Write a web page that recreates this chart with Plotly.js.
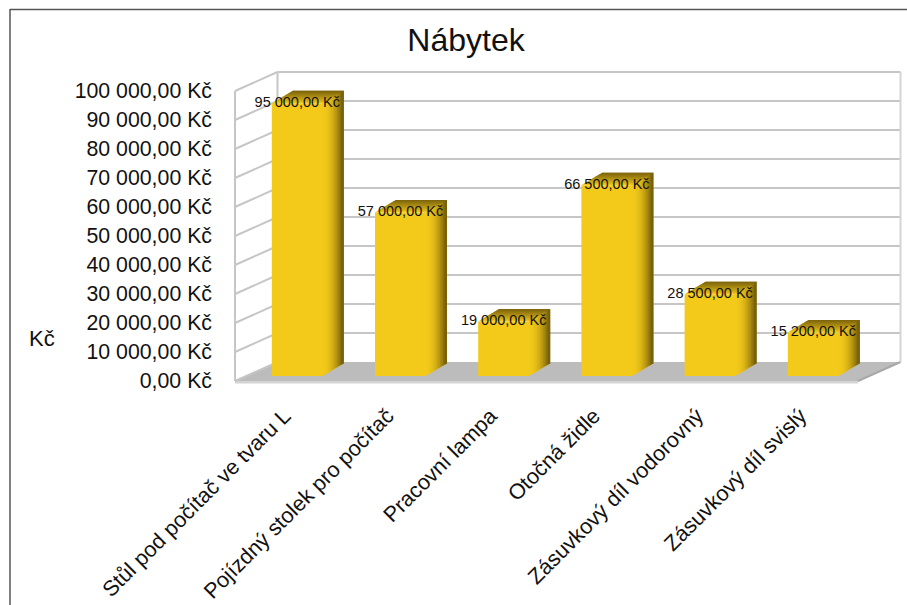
<!DOCTYPE html>
<html><head><meta charset="utf-8">
<script src="https://cdn.plot.ly/plotly-3.0.1.min.js"></script>
<style>html,body{margin:0;padding:0;background:#fff;overflow:hidden}#c{width:907px;height:605px}</style>
</head><body><div id="c"></div>
<script>
const categories = ["Stůl pod počítač ve tvaru L","Pojízdný stolek pro počítač","Pracovní lampa","Otočná židle","Zásuvkový díl vodorovný","Zásuvkový díl svislý"];
const values = [95000,57000,19000,66500,28500,15200];
const tickValues = [0,10000,20000,30000,40000,50000,60000,70000,80000,90000,100000];
const chartTitle = "Nábytek";
const axisTitle = "Kč";

const W=907,H=605;
const pitch=103.2, firstCenter=297.3;
const wallScale=290/100000, barScale=287/100000;
const wallZeroY=381, barZeroY=376;
const barWidth=51/pitch;
const fmt=v=>{const s=String(Math.round(v));return s.replace(/\B(?=(\d{3})+$)/g,' ')+',00 Kč';};
const xRange=[(0-firstCenter)/pitch,(W-firstCenter)/pitch];
const yRange=(z,k)=>[-(H-z)/k, z/k];

const X=(c,dx=0)=>c+dx/pitch;
const Yw=(v,dy=0)=>v-dy/wallScale;
const Yb=(v,dy=0)=>v-dy/barScale;
const mix=(a,b,t)=>'rgb('+a.map((q,i)=>Math.round(q+(b[i]-q)*t)).join(',')+')';
const path=pts=>'M'+pts.map(p=>p[0]+','+p[1]).join('L')+'Z';
const shapes=[];
const poly=(pts,color,yref)=>shapes.push({type:'path',xref:'x',yref,layer:'below',path:path(pts),fillcolor:color,line:{width:0}});
const seg=(a,b,color,w,yref)=>shapes.push({type:'line',xref:'x',yref,layer:'below',x0:a[0],y0:a[1],x1:b[0],y1:b[1],line:{color,width:w}});

const leftC=(235-firstCenter)/pitch, depthX=42.5, depthY=-19, rightC=(858-firstCenter)/pitch;
poly([[X(leftC),Yw(0)],[X(leftC,depthX),Yw(0,depthY)],[X(rightC,depthX),Yw(0,depthY)],[X(rightC),Yw(0)]],'#bcbcbc','y');
poly([[X(leftC),Yw(0)],[X(rightC),Yw(0)],[X(rightC),Yw(0,2.5)],[X(leftC),Yw(0,2.5)]],'#d4d4d4','y');
seg([X(rightC),Yw(0)],[X(rightC,depthX),Yw(0,depthY)],'#a8a8a8',2,'y');
tickValues.forEach(v=>{
  const g='#c6c6c6';
  seg([X(leftC),Yw(v)],[X(leftC,depthX),Yw(v,depthY)],g,2,'y');
  if(v>0) seg([X(leftC,depthX),Yw(v,depthY)],[X(rightC,depthX),Yw(v,depthY)],g,2,'y');
});
seg([X(leftC),Yw(0)],[X(leftC),Yw(100000)],'#c6c6c6',2,'y');
seg([X(leftC,depthX),Yw(0,depthY)],[X(leftC,depthX),Yw(100000,depthY)],'#c6c6c6',2,'y');
seg([X(rightC,depthX),Yw(0,depthY)],[X(rightC,depthX),Yw(100000,depthY)],'#d4d4d4',2,'y');

const front=[243,201,26], dark=[100,80,8];
const dX=21, dY=-12.5, strips=14;
values.forEach((v,i)=>{
  const l=i-barWidth/2, r=i+barWidth/2;
  for(let s=0;s<strips;s++){
    const a=s/strips, b=Math.min(1,(s+1)/strips+0.08), a0=a-0.05;
    poly([[X(r,dX*a0),Yb(0,dY*a)],[X(r,dX*b),Yb(0,dY*b)],[X(r,dX*b),Yb(v,dY*b)],[X(r,dX*a0),Yb(v,dY*a)]],mix(front,dark,Math.pow(a,2)),'y2');
    poly([[X(l,dX*a),Yb(v,dY*a)],[X(r,dX*a),Yb(v,dY*a)],[X(r,dX*b),Yb(v,dY*b)],[X(l,dX*b),Yb(v,dY*b)]],mix(front,[120,96,12],Math.pow(a,0.8)),'y2');
  }
});

shapes.push({type:'line',xref:'paper',yref:'paper',x0:10/W,x1:10/W,y0:0,y1:1-9/H,line:{color:'#555',width:1.5},layer:'above'});
shapes.push({type:'line',xref:'paper',yref:'paper',x0:10/W,x1:1,y0:1-9.5/H,y1:1-9.5/H,line:{color:'#555',width:1.5},layer:'above'});

const traces=[
 {type:'bar',x:categories,y:values,xaxis:'x',yaxis:'y2',width:barWidth,marker:{color:'#f3c91a',line:{width:0}},hoverinfo:'skip'},
 {type:'scatter',mode:'text',x:categories,y:values,xaxis:'x',yaxis:'y2',text:values.map(fmt),textposition:'middle center',
  textfont:{family:'"Liberation Sans",Arial,sans-serif',size:14.5,color:'#111'},hoverinfo:'skip',cliponaxis:false}
];
const layout={
 width:W,height:H,margin:{l:0,r:0,t:0,b:0},paper_bgcolor:'#fff',plot_bgcolor:'rgba(0,0,0,0)',showlegend:false,hovermode:false,
 font:{family:'"Liberation Sans",Arial,sans-serif',color:'#111'},
 title:{text:chartTitle,x:466/W,xanchor:'center',y:1-40/H,yanchor:'middle',font:{size:32,color:'#111'}},
 xaxis:{type:'category',categoryorder:'array',categoryarray:categories,domain:[0,1],range:xRange,anchor:'free',position:1-398/H,
   tickmode:'array',tickvals:categories,ticktext:categories,tickangle:-45,ticklabelshift:-13,tickfont:{size:21.6,color:'#111'},ticks:'',showgrid:false,zeroline:false,showline:false,fixedrange:true},
 yaxis:{domain:[0,1],range:yRange(wallZeroY,wallScale),anchor:'free',position:212/W,side:'left',tickmode:'array',tickvals:tickValues,ticktext:tickValues.map(fmt),
   tickfont:{size:21.3,color:'#111'},ticks:'',showgrid:false,zeroline:false,showline:false,fixedrange:true},
 yaxis2:{domain:[0,1],range:yRange(barZeroY,barScale),overlaying:'y',anchor:'x',showticklabels:false,ticks:'',showgrid:false,zeroline:false,showline:false,fixedrange:true},
 shapes,
 annotations:[{text:axisTitle,xref:'paper',yref:'paper',x:42/W,y:1-338/H,xanchor:'center',yanchor:'middle',showarrow:false,font:{size:22,color:'#111'}}]
};
Plotly.newPlot('c',traces,layout,{displayModeBar:false,staticPlot:true});
</script></body></html>
